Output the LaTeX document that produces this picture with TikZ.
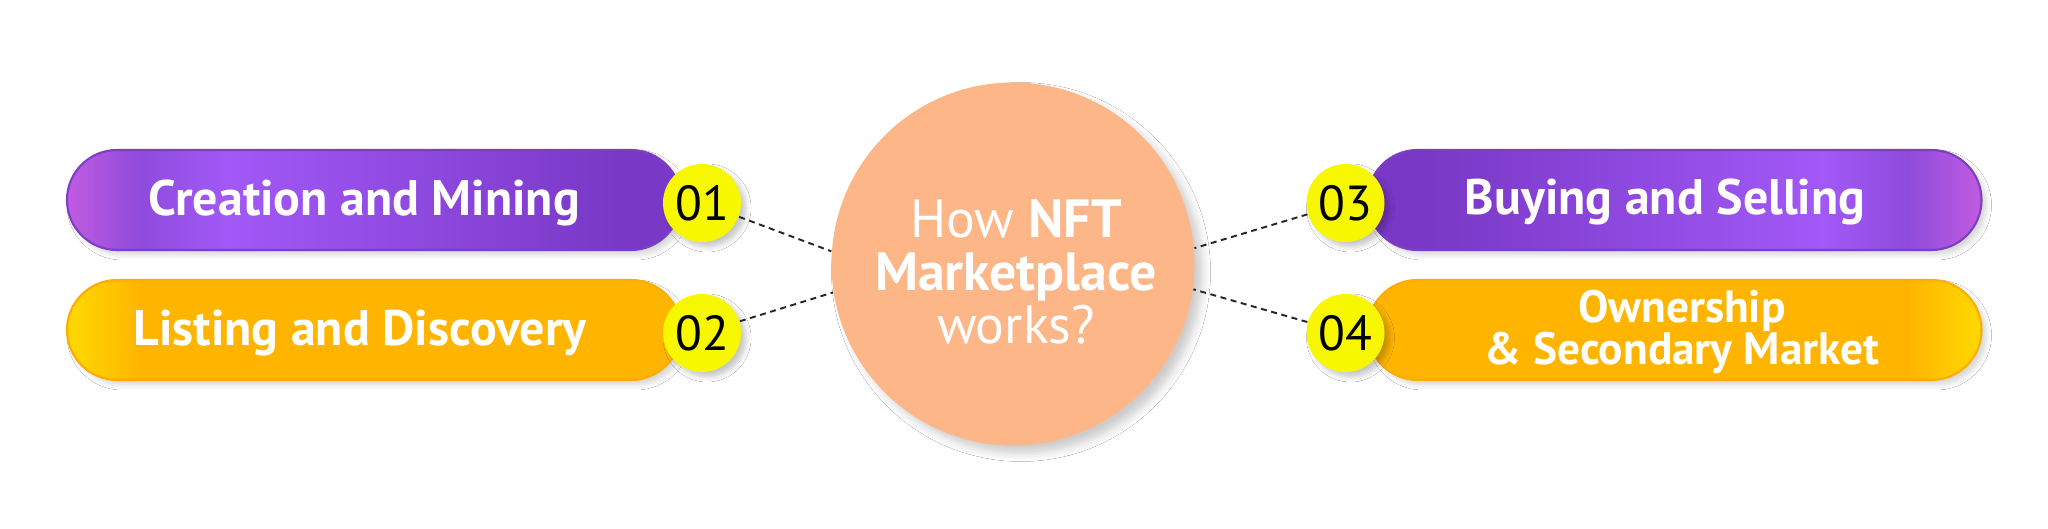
\documentclass[tikz,border=0pt]{standalone}
\usepackage{fontspec}
\setmainfont{PT Sans}
\usetikzlibrary{shadows.blur}

\definecolor{pmag}{RGB}{193,91,224}
\definecolor{pmid}{RGB}{142,75,220}
\definecolor{pbright}{RGB}{162,89,247}
\definecolor{pdark}{RGB}{121,56,198}
\definecolor{pline}{RGB}{122,63,196}
\definecolor{ylight}{RGB}{255,217,0}
\definecolor{yamber}{RGB}{255,181,0}
\definecolor{yline}{RGB}{255,172,0}
\definecolor{dotyellow}{RGB}{247,247,0}
\definecolor{hubpeach}{RGB}{253,182,136}

\pgfdeclarehorizontalshading{purpleleft}{100bp}{color(0bp)=(pmag); color(25bp)=(pmag); color(31bp)=(pmid); color(38bp)=(pbright); color(70bp)=(pdark); color(100bp)=(pdark)}
\pgfdeclarehorizontalshading{purpleright}{100bp}{color(0bp)=(pdark); color(30bp)=(pdark); color(62bp)=(pbright); color(69bp)=(pmid); color(75bp)=(pmag); color(100bp)=(pmag)}
\pgfdeclarehorizontalshading{yellowleft}{100bp}{color(0bp)=(ylight); color(25bp)=(ylight); color(31bp)=(yamber); color(100bp)=(yamber)}
\pgfdeclarehorizontalshading{yellowright}{100bp}{color(0bp)=(yamber); color(69bp)=(yamber); color(75bp)=(ylight); color(100bp)=(ylight)}

\tikzset{
  softshadow/.style={blur shadow={shadow xshift=0.5mm, shadow yshift=-0.5mm, shadow blur radius=0.5mm, shadow blur steps=6, shadow opacity=#1}},
  pill/.style={rounded corners=0.5cm, minimum width=6.14cm, minimum height=1cm,
    line width=0.6pt, shade, softshadow=16},
  purplepill/.style={pill, draw=pline, shading=#1},
  yellowpill/.style={pill, draw=yline, shading=#1},
  pilltext/.style={text=white, inner sep=0pt, font=\fontsize{14.2}{15}\selectfont\bfseries, align=center},
  numdot/.style={circle, fill=dotyellow, minimum size=0.78cm, inner sep=0pt,
    font=\fontsize{14}{15}\selectfont, softshadow=22},
  link/.style={black!85, line width=0.55pt, dash pattern=on 1.7pt off 1.3pt},
}

\begin{document}
\begin{tikzpicture}

\fill[white] (0,0) rectangle (20.48,5.29);
\useasboundingbox (0,0) rectangle (20.48,5.29);

% left pills
\node[purplepill=purpleleft] (p1) at (3.74,3.29) {};
\node[yellowpill=yellowleft] (p2) at (3.74,1.99) {};

% right pills
\node[purplepill=purpleright] (p3) at (16.745,3.29) {};
\node[yellowpill=yellowright] (p4) at (16.745,1.99) {};

% step numbers
\node[numdot] (n1) at (7.02,3.26) {01};
\node[numdot] (n2) at (7.02,1.96) {02};
\node[numdot] (n3) at (13.455,3.26) {03};
\node[numdot] (n4) at (13.455,1.96) {04};

% centre circle
\node[circle, fill=hubpeach, minimum size=3.63cm, inner sep=0pt,
  blur shadow={shadow xshift=0.8mm, shadow yshift=-0.8mm, shadow blur radius=0.8mm, shadow blur steps=6, shadow opacity=20}] (hub) at (10.13,2.65) {};
\node[text=white, inner sep=0pt, align=center, font=\fontsize{15.3}{15.1}\selectfont] (title) at (10.16,2.57)
  {How \textbf{NFT}\\\textbf{Marketplace}\\works?};

% dotted links
\draw[link] (n1) -- (hub.176);
\draw[link] (n2) -- (hub.189);
\draw[link] (n3) -- (hub.5);
\draw[link] (n4) -- (hub.-8);

% pill labels
\node[pilltext, anchor=base] (t1) at (3.64,3.13) {Creation and Mining};
\node[pilltext, anchor=base] (t2) at (3.60,1.83) {Listing and Discovery};
\node[pilltext, anchor=base] (t3) at (16.65,3.14) {Buying and Selling};
\node[pilltext, font=\fontsize{12.9}{12.2}\selectfont\bfseries] (t4) at (16.82,1.97) {Ownership\\\& Secondary Market};

\end{tikzpicture}
\end{document}
